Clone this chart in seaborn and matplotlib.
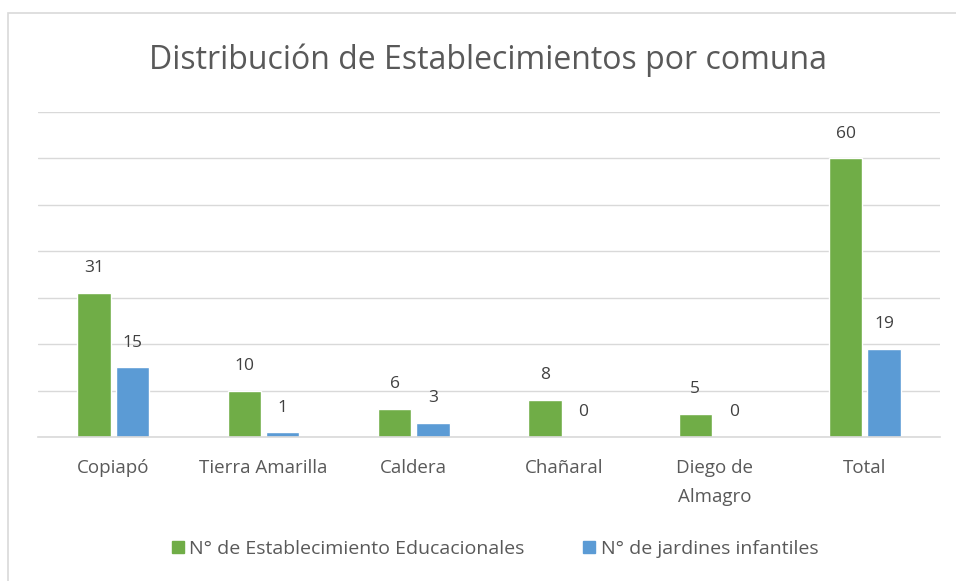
import seaborn as sns
import matplotlib.pyplot as plt
import matplotlib.patches as mpatches
import pandas as pd

comunas = ["Copiapó", "Tierra Amarilla", "Caldera", "Chañaral", "Diego de\nAlmagro", "Total"]
establecimientos = [31, 10, 6, 8, 5, 60]
jardines = [15, 1, 3, 0, 0, 19]
series = ["N° de Establecimiento Educacionales", "N° de jardines infantiles"]

df = pd.DataFrame({
    "comuna": comunas * 2,
    "valor": establecimientos + jardines,
    "serie": [series[0]] * len(comunas) + [series[1]] * len(comunas),
})

sns.set_theme(style="white")
plt.rcParams["font.family"] = ["Open Sans", "DejaVu Sans"]

fig = plt.figure(figsize=(9.56, 5.81), dpi=100)
ax = fig.add_axes([38 / 956, 1 - 437 / 581, (940 - 38) / 956, (437 - 112) / 581])

# chart frame (top and left edges visible)
fig.patches.append(mpatches.Rectangle((8 / 956, -0.1), 1.2, 1 - 13 / 581 + 0.1,
                                      transform=fig.transFigure, fill=False,
                                      edgecolor="#d9d9d9", linewidth=1.2))

sns.barplot(data=df, x="comuna", y="valor", hue="serie", ax=ax,
            palette=["#70AD47", "#5B9BD5"], width=0.51, gap=0.13,
            legend=False, saturation=1)

for cont in ax.containers:
    ax.bar_label(cont, padding=12, fontsize=12.5, color="#404040")

ax.set_ylim(0, 70)
ax.set_xlim(-0.5, 5.5)
ax.set_yticks(range(0, 71, 10))
ax.set_yticklabels([])
ax.yaxis.grid(True, color="#d9d9d9", linewidth=1)
ax.set_axisbelow(True)
for s in ["top", "right", "left"]:
    ax.spines[s].set_visible(False)
ax.spines["bottom"].set_color("#d9d9d9")
ax.spines["bottom"].set_linewidth(1.2)
ax.tick_params(axis="y", length=0)
ax.tick_params(axis="x", which="major", length=0, pad=16, labelsize=13.5, labelcolor="#595959")
for lbl in ax.get_xticklabels():
    lbl.set_linespacing(1.75)
ax.set_xticks([i - 0.5 for i in range(7)], minor=True)
ax.tick_params(axis="x", which="minor", length=7, color="#d9d9d9", width=1.2)
ax.set_xlabel("")
ax.set_ylabel("")

fig.text(488 / 956, 1 - 60 / 581, "Distribución de Establecimientos por comuna",
         ha="center", va="center", fontsize=23, color="#595959")

handles = [mpatches.Patch(color=c) for c in ["#70AD47", "#5B9BD5"]]
fig.legend(handles, series, loc="center", bbox_to_anchor=(495 / 956, 1 - 549 / 581),
           ncol=2, frameon=False, fontsize=14, labelcolor="#595959",
           handlelength=0.6, handleheight=0.6, handletextpad=0.3, columnspacing=3.0)

plt.savefig("out.png", dpi=100)
